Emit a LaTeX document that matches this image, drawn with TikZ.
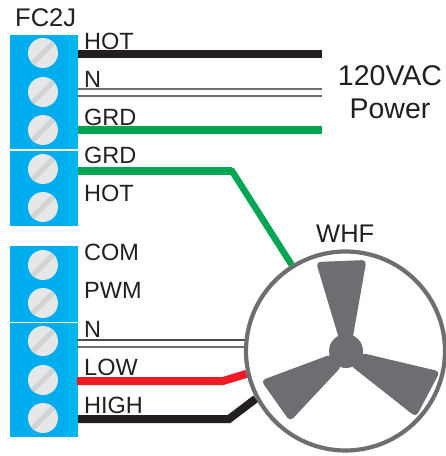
\documentclass[tikz,border=0pt]{standalone}
\usepackage{fontspec}
\setmainfont{Liberation Sans}
\definecolor{blk}{HTML}{231F20}
\definecolor{cy}{HTML}{00AEEF}
\definecolor{cyl}{HTML}{00B5EC}
\definecolor{grn}{HTML}{00A651}
\definecolor{rd}{HTML}{ED1C24}
\definecolor{fang}{HTML}{6D6E71}
\definecolor{scr}{HTML}{E6E7E8}
\definecolor{slot}{HTML}{D1D3D4}
\tikzset{
  lbl/.style={anchor=base west,inner sep=0pt,text=blk,font=\fontsize{23.5}{26}\selectfont},
  bigger lbl/.style={lbl,font=\fontsize{25.5}{28}\selectfont},
  biglbl/.style={anchor=base,inner sep=0pt,text=blk,font=\fontsize{28.5}{31}\selectfont},
  blockbody/.style={fill=cy,draw=none},
  blockstrip/.style={fill=cyl,draw=none},
  screw/.style={circle,minimum size=30pt,inner sep=0pt,fill=scr,draw=none,
    path picture={\draw[slot,line width=5pt] (path picture bounding box.south west) -- (path picture bounding box.north east);}},
  wire/.style={line width=8pt,line join=miter},
  thin wire/.style={line width=1.3pt},
  fanring/.style={circle,draw=fang,line width=4.2pt,minimum size=199pt,inner sep=0pt,fill=white},
  blade/.style={fill=fang,draw=none,rounded corners=4.5pt},
}
\begin{document}
\begin{tikzpicture}[x=1pt,y=-1pt]
\useasboundingbox[fill=white] (0,0) rectangle (446,456);
% terminal blocks
\foreach \ya/\yb in {35/149,150.5/226,246/321.5,323/437}{
  \fill[blockbody] (10,\ya) rectangle (65,\yb);
  \fill[blockstrip] (65,\ya) rectangle (78,\yb);
}
\foreach \n/\y in {a/53,b/92,c/130,d/169,e/207,f/265,g/303,h/341,i/380,j/418}{
  \node[screw] (s\n) at (43,\y) {};
}
% wire ends
\coordinate (hotA) at (78,54);  \coordinate (hotB) at (322,54);
\coordinate (grdA) at (78,130); \coordinate (grdB) at (322,130);
\coordinate (nAa) at (78,89);   \coordinate (nAb) at (322,89);
\coordinate (nBa) at (78,96);   \coordinate (nBb) at (322,96);
\coordinate (g2A) at (78,171);  \coordinate (g2M) at (232,171);
\coordinate (nCa) at (77,340);  \coordinate (nDa) at (77,347);
\coordinate (lowA) at (77,381); \coordinate (lowM) at (223,381);
\coordinate (highA) at (78,419);\coordinate (highM) at (229,419);
% fan wires go under the ring
\node[fanring,fill=none,draw=none] (fanpos) at (345.5,351) {};
\draw[line width=6.5pt,grn] (g2A) -- (g2M) -- (fanpos.122);
\draw[wire,grn] (g2A) -- (g2M);
\draw[thin wire,blk!80] (nCa) -- (fanpos.center |- nCa) ;
\draw[thin wire,fang] (nDa) -- (fanpos.center |- nDa);
\draw[wire,rd] (lowA) -- (lowM) -- (fanpos.193);
\draw[wire,blk] (highA) -- (highM) -- (fanpos.208);
% upper wires
\draw[wire,blk] (hotA) -- (hotB);
\draw[wire,grn] (grdA) -- (grdB);
\draw[thin wire,fang] (nAa) -- (nAb);
\draw[thin wire,fang] (nBa) -- (nBb);
% fan
\node[fanring] (fan) at (345.5,351) {};
\fill[blade] (316,262) -- (366.5,260) -- (352,342) -- (340,342) -- cycle;
\fill[blade] (362,353) -- (440,371.5) -- (416,417) -- (350,365) -- cycle;
\fill[blade] (332,354) -- (261,380.5) -- (290,421.5) -- (342,366) -- cycle;
\node[circle,fill=fang,minimum size=34pt,inner sep=0pt] (hub) at (346,351) {};
% labels
\node[bigger lbl] at (15,26) {FC2J};
\node[lbl] at (84,49) {HOT};
\node[lbl] at (84,87) {N};
\node[lbl] at (84,125) {GRD};
\node[lbl] at (84,163) {GRD};
\node[lbl] at (84,201) {HOT};
\node[lbl] at (84,260) {COM};
\node[lbl] at (84,298) {PWM};
\node[lbl] at (84,337) {N};
\node[lbl] at (84,375) {LOW};
\node[lbl] at (84,413) {HIGH};
\node[biglbl] at (390,85) {120VAC};
\node[biglbl] at (390,118) {Power};
\node[bigger lbl] at (316,242) {WHF};
\end{tikzpicture}
\end{document}
